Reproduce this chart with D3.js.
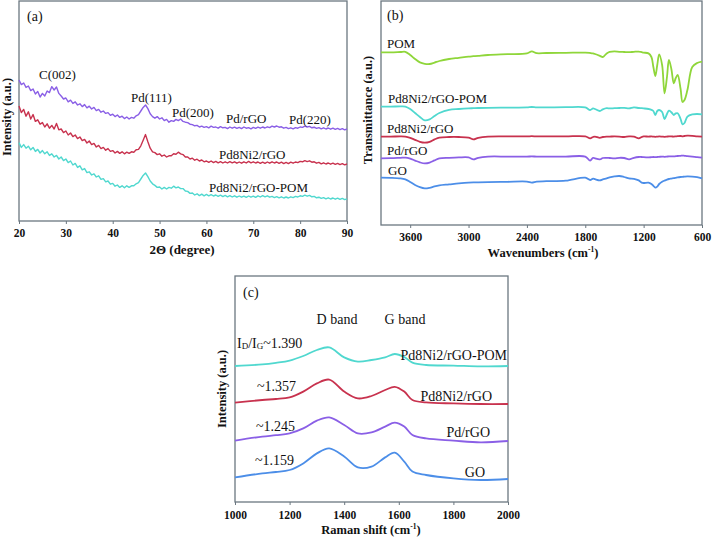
<!DOCTYPE html>
<html>
<head>
<meta charset="utf-8">
<script src="https://cdn.jsdelivr.net/npm/d3@7"></script>
<style>
  body { margin: 0; background: #fff; }
  text { font-family: "Liberation Serif", "Times New Roman", serif; fill: #111; }
</style>
</head>
<body>
<svg width="712" height="540"></svg>
<script>
// ---- (a) XRD, 2-theta from 20 to 90 in 0.5 degree steps ----
const xrdStart = 20, xrdStep = 0.5;
const xrdTicks = [20, 30, 40, 50, 60, 70, 80, 90];

const xrdPdRGO = [
  70.5, 68.2, 69.0, 66.8, 67.5, 65.2, 66.0, 63.5, 64.8, 62.0,
  63.8, 62.5, 65.0, 64.2, 67.2, 65.5, 67.0, 63.8, 62.5, 61.0,
  61.5, 59.6, 60.4, 58.8, 59.6, 58.0, 58.6, 57.2, 58.2, 56.6,
  57.4, 56.0, 56.8, 55.2, 55.8, 54.4, 55.0, 53.8, 54.2, 52.8,
  53.4, 52.2, 53.0, 51.8, 52.4, 51.2, 52.0, 51.0, 51.8, 51.4,
  52.6, 53.2, 55.0, 56.8, 58.0, 56.2, 53.6, 52.2, 51.4, 52.2,
  51.0, 51.6, 50.2, 50.8, 49.4, 50.2, 49.8, 50.8, 50.2, 51.0,
  49.8, 49.4, 49.2, 48.4, 48.2, 47.6, 47.8, 47.0, 47.4, 46.8,
  47.2, 46.6, 47.4, 46.8, 47.0, 46.4, 47.2, 46.6, 46.8, 46.2,
  47.0, 46.4, 46.9, 46.3, 46.8, 46.2, 47.0, 46.4, 46.7, 46.1,
  46.8, 46.3, 46.9, 46.4, 47.0, 46.5, 47.1, 46.7, 47.4, 47.0,
  47.5, 46.9, 47.1, 46.4, 46.8, 46.2, 46.6, 46.1, 46.7, 46.4,
  47.0, 46.8, 47.4, 47.0, 47.3, 46.6, 46.9, 46.3, 46.7, 46.1,
  46.6, 46.0, 46.5, 45.9, 46.4, 45.8, 46.3, 45.7, 46.2, 45.6,
  46.0
];
const xrdPdNiRGO = [
  57.5, 54.2, 55.8, 52.4, 54.6, 51.0, 53.2, 49.8, 50.6, 48.4,
  49.2, 47.0, 48.6, 46.4, 47.8, 46.0, 48.8, 45.6, 46.0, 44.2,
  45.0, 43.0, 44.0, 42.2, 43.0, 41.2, 42.0, 40.2, 40.8, 39.0,
  40.0, 38.2, 38.8, 37.0, 37.8, 36.2, 36.8, 35.4, 36.2, 34.8,
  35.2, 34.0, 34.8, 33.8, 34.6, 33.6, 34.4, 33.8, 34.6, 34.4,
  35.6, 35.8, 37.6, 40.4, 43.2, 39.6, 36.4, 34.6, 34.2, 33.2,
  33.6, 32.4, 33.0, 32.0, 32.6, 32.6, 33.6, 33.4, 34.4, 33.6,
  33.2, 32.0, 32.0, 31.0, 31.4, 30.4, 30.9, 30.0, 30.5, 29.6,
  30.0, 29.3, 30.0, 29.2, 29.8, 29.1, 29.7, 29.0, 29.6, 29.0,
  29.7, 29.1, 29.6, 28.9, 29.5, 28.9, 29.6, 29.0, 29.8, 29.1,
  29.6, 29.0, 29.5, 28.8, 29.4, 28.8, 29.5, 28.9, 29.6, 29.0,
  29.5, 28.8, 29.4, 28.7, 29.3, 28.7, 29.4, 28.9, 29.5, 29.2,
  29.8, 29.6, 30.2, 29.7, 30.1, 29.4, 29.6, 28.9, 29.3, 28.6,
  29.1, 28.5, 29.0, 28.4, 28.9, 28.3, 28.8, 28.2, 28.7, 28.1,
  28.5
];
const xrdPdNiRGOPOM = [
  39.2, 36.8, 38.2, 36.4, 37.4, 35.6, 36.8, 34.8, 35.8, 34.0,
  35.2, 33.6, 34.6, 32.8, 33.6, 32.0, 32.8, 31.0, 32.0, 30.2,
  31.0, 29.2, 30.0, 28.0, 28.8, 26.8, 27.6, 25.6, 26.2, 24.2,
  24.6, 23.0, 23.6, 22.0, 22.6, 20.8, 21.2, 19.6, 20.0, 18.4,
  18.8, 17.4, 18.0, 16.8, 17.6, 16.6, 17.6, 16.8, 17.6, 17.6,
  18.6, 19.2, 21.0, 22.8, 24.0, 22.2, 20.0, 18.6, 17.8, 16.8,
  17.0, 16.0, 16.8, 16.0, 16.8, 16.4, 17.4, 16.6, 17.0, 16.2,
  16.2, 15.0, 14.8, 13.8, 14.0, 13.0, 13.6, 12.7, 13.4, 12.6,
  13.3, 12.6, 13.2, 12.5, 13.0, 12.3, 12.9, 12.2, 12.8, 12.1,
  12.7, 12.0, 12.6, 11.9, 12.5, 11.9, 12.4, 11.8, 12.5, 11.9,
  12.4, 11.8, 12.6, 12.0, 12.7, 12.1, 12.6, 11.9, 12.3, 11.7,
  12.2, 11.6, 12.1, 11.5, 12.0, 11.5, 12.1, 11.7, 12.3, 12.0,
  12.6, 12.3, 12.9, 12.4, 12.8, 12.1, 12.3, 11.6, 11.9, 11.3,
  11.7, 11.1, 11.6, 11.0, 11.5, 10.9, 11.4, 10.8, 11.3, 10.7,
  11.1
];

// ---- (b) FTIR ----
const ftirWn = [
  3900, 3800, 3700, 3650, 3600, 3550, 3500, 3450, 3400, 3350,
  3300, 3200, 3100, 3000, 2950, 2900, 2800, 2600, 2400, 2350,
  2300, 2200, 2000, 1800, 1750, 1720, 1700, 1650, 1620, 1580,
  1550, 1500, 1450, 1400, 1350, 1300, 1250, 1220, 1200, 1150,
  1120, 1100, 1080, 1060, 1040, 1010, 985, 960, 940, 915,
  890, 870, 850, 820, 800, 780, 750, 700, 650, 600
];
const ftirTicks = [3600, 3000, 2400, 1800, 1200, 600];
const ftirPOM = [
  86.3, 86.3, 86.5, 86.6, 85.0, 83.0, 81.3, 80.6, 80.5, 81.2,
  82.0, 83.0, 83.6, 84.2, 84.4, 84.6, 85.0, 85.4, 85.8, 86.8,
  85.9, 86.0, 86.1, 86.2, 86.0, 85.8, 85.5, 84.6, 84.0, 85.8,
  86.6, 86.8, 86.6, 86.5, 86.4, 86.6, 86.7, 86.4, 86.2, 85.8,
  84.0, 79.0, 74.5, 80.0, 85.3, 80.0, 65.8, 74.0, 82.5, 78.0,
  70.8, 73.5, 75.0, 68.0, 61.5, 62.5, 67.5, 79.0, 81.0, 81.7
];
const ftirPdNiPOM = [
  59.2, 59.2, 59.3, 59.2, 58.0, 56.0, 54.0, 52.3, 52.8, 54.5,
  56.0, 57.6, 58.0, 58.3, 58.4, 58.5, 58.6, 58.7, 58.8, 59.0,
  58.8, 58.8, 58.9, 58.8, 57.5, 58.3, 58.0, 57.0, 57.8, 58.4,
  58.3, 58.4, 58.5, 58.6, 58.3, 58.8, 58.5, 58.4, 58.3, 58.0,
  57.6, 57.0, 55.0, 57.0, 57.5, 56.5, 53.0, 55.5, 57.2, 56.4,
  55.0, 55.8, 55.9, 53.0, 50.3, 51.0, 54.2, 55.3, 55.5, 55.3
];
const ftirPdNi = [
  44.2, 44.2, 44.3, 44.2, 43.6, 42.6, 41.6, 41.2, 41.6, 42.8,
  43.7, 44.0, 44.0, 43.7, 42.8, 43.6, 44.2, 44.3, 44.3, 44.4,
  44.3, 44.3, 44.3, 44.3, 43.3, 44.0, 44.2, 43.6, 44.0, 44.2,
  44.2, 44.3, 44.2, 44.0, 44.3, 44.2, 43.3, 44.0, 44.3, 44.2,
  44.3, 44.2, 44.1, 44.2, 44.3, 44.2, 44.1, 44.2, 44.3, 44.3,
  44.2, 44.3, 44.4, 44.5, 44.3, 44.5, 44.7, 44.6, 44.3, 44.2
];
const ftirPd = [
  33.3, 33.4, 33.6, 33.7, 33.2, 32.2, 31.3, 30.8, 31.2, 32.3,
  33.3, 33.6, 33.8, 33.8, 32.8, 33.6, 34.2, 34.2, 34.2, 34.3,
  34.2, 34.2, 34.2, 34.2, 32.2, 33.6, 33.3, 32.8, 33.5, 33.6,
  33.5, 33.3, 33.6, 33.5, 32.8, 33.6, 34.0, 34.0, 33.9, 33.8,
  33.9, 34.0, 33.9, 34.0, 34.1, 34.2, 34.1, 34.2, 34.3, 34.3,
  34.3, 34.4, 34.5, 34.6, 34.7, 34.6, 34.4, 34.2, 33.9, 33.7
];
const ftirGO = [
  23.7, 23.6, 23.3, 22.8, 21.5, 20.0, 18.9, 18.3, 18.6, 19.3,
  19.8, 20.3, 20.8, 21.2, 21.3, 21.3, 21.4, 21.6, 21.7, 21.2,
  21.7, 21.9, 22.2, 23.7, 22.5, 23.2, 22.9, 22.3, 22.8, 23.3,
  23.8, 24.3, 24.5, 24.0, 23.3, 23.1, 22.3, 21.2, 21.0, 21.2,
  20.5, 19.6, 18.7, 19.2, 20.5, 21.6, 22.2, 22.7, 23.0, 23.2,
  23.4, 23.6, 23.8, 24.0, 24.1, 24.2, 24.3, 24.2, 23.9, 23.3
];

// ---- (c) Raman ----
const ramanShift = [1000, 1100, 1150, 1200, 1250, 1300, 1345, 1400, 1450, 1500, 1550, 1585, 1620, 1650, 1700, 1800, 1900, 2000];
const ramanTicks = [1000, 1200, 1400, 1600, 1800, 2000];
const ramanPdNiPOM = [68.0, 68.8, 69.6, 70.7, 73.0, 76.0, 77.3, 72.3, 70.2, 71.0, 72.3, 74.0, 72.5, 69.7, 68.5, 68.2, 67.8, 68.0];
const ramanPdNi = [49.7, 51.0, 51.5, 52.3, 55.2, 59.3, 61.2, 55.2, 51.8, 53.0, 56.0, 57.6, 55.2, 51.0, 49.8, 49.3, 49.0, 49.0];
const ramanPd = [30.7, 32.7, 33.4, 34.3, 36.8, 40.7, 42.3, 38.5, 34.3, 34.8, 37.7, 39.7, 37.7, 33.5, 31.8, 30.7, 29.8, 30.5];
const ramanGO = [12.3, 14.3, 15.0, 16.0, 19.3, 24.3, 26.8, 22.7, 17.3, 17.7, 22.3, 24.7, 20.2, 15.2, 13.5, 11.8, 11.0, 11.5];

const C = { green: "#8fd63a", cyan: "#50d8cf", red: "#c8324e", purple: "#8a5fe6", blue: "#4c8ee8" };
const axisColor = "#6b7780";

const svg = d3.select("svg");
svg.append("rect").attr("width", 712).attr("height", 540).attr("fill", "#fff");

function panel(box, xDomain, yDomain, ticks, padding) {
  const x = d3.scaleLinear().domain(xDomain).range([box.left, box.right]);
  const y = d3.scaleLinear().domain(yDomain).range([box.bottom, box.top]);
  const g = svg.append("g");
  g.append("rect")
    .attr("x", box.left).attr("y", box.top)
    .attr("width", box.right - box.left).attr("height", box.bottom - box.top)
    .attr("fill", "none").attr("stroke", axisColor).attr("stroke-width", 1.3);
  const ax = g.append("g")
    .attr("transform", `translate(0,${box.bottom})`)
    .call(d3.axisBottom(x).tickValues(ticks).tickSize(3).tickPadding(padding).tickFormat(d => d));
  ax.select(".domain").remove();
  ax.selectAll("line").attr("stroke", axisColor);
  ax.selectAll("text")
    .style("font-family", '"Liberation Serif", serif')
    .style("font-weight", "bold").style("font-size", "11.5px").attr("fill", "#111");
  return { x, y, g };
}

function series(p, xs, ys, color, width, curve) {
  const line = d3.line().x(d => p.x(d[0])).y(d => p.y(d[1])).curve(curve);
  p.g.append("path")
    .datum(xs.map((v, i) => [v, ys[i]]))
    .attr("fill", "none").attr("stroke", color)
    .attr("stroke-width", width).attr("stroke-linejoin", "round")
    .attr("d", line);
}

function label(x, y, str, size, opts = {}) {
  const t = svg.append("text").attr("x", x).attr("y", y)
    .attr("dominant-baseline", "central")
    .style("font-size", size + "px")
    .attr("text-anchor", opts.anchor || "start");
  if (opts.bold) t.style("font-weight", "bold");
  if (opts.rotate) t.attr("transform", `rotate(-90,${x},${y})`);
  t.text(str);
  return t;
}

// axis title with a small superscript, e.g. cm-1
function titleWithSup(x, y, before, sup, after) {
  const t = svg.append("text").attr("x", x).attr("y", y)
    .attr("text-anchor", "middle").attr("dominant-baseline", "central")
    .style("font-size", "12.5px").style("font-weight", "bold");
  t.append("tspan").text(before);
  t.append("tspan").attr("dy", -4).style("font-size", "7.5px").text(sup);
  t.append("tspan").attr("dy", 4).text(after);
}

// ---------- panel (a) ----------
const xrdAngles = xrdPdRGO.map((_, i) => xrdStart + i * xrdStep);
const pa = panel({ left: 19, right: 347, top: 1, bottom: 221 }, [20, 90], [0, 110], xrdTicks, 5);
series(pa, xrdAngles, xrdPdRGO, C.purple, 1.4, d3.curveLinear);
series(pa, xrdAngles, xrdPdNiRGO, C.red, 1.4, d3.curveLinear);
series(pa, xrdAngles, xrdPdNiRGOPOM, C.cyan, 1.4, d3.curveLinear);
label(27, 16, "(a)", 14);
label(39, 74, "C(002)", 13);
label(131, 97, "Pd(111)", 13);
label(172, 112, "Pd(200)", 13);
label(226, 118, "Pd/rGO", 13);
label(289, 119, "Pd(220)", 13);
label(219, 154, "Pd8Ni2/rGO", 13);
label(209, 187, "Pd8Ni2/rGO-POM", 13);
label(182, 249, "2Θ (degree)", 13, { anchor: "middle", bold: true });
label(7, 117, "Intensity (a.u.)", 12.5, { anchor: "middle", bold: true, rotate: true });

// ---------- panel (b) ----------
const pb = panel({ left: 381, right: 702, top: 1, bottom: 225 }, [3900, 600], [0, 112], ftirTicks, 5);
const smooth = d3.curveCatmullRom.alpha(0.5);
series(pb, ftirWn, ftirPOM, C.green, 1.8, smooth);
series(pb, ftirWn, ftirPdNiPOM, C.cyan, 1.8, smooth);
series(pb, ftirWn, ftirPdNi, C.red, 1.8, smooth);
series(pb, ftirWn, ftirPd, C.purple, 1.8, smooth);
series(pb, ftirWn, ftirGO, C.blue, 1.8, smooth);
label(387, 15, "(b)", 14);
label(387, 43, "POM", 13);
label(388, 98, "Pd8Ni2/rGO-POM", 13);
label(387, 128, "Pd8Ni2/rGO", 13);
label(387, 150, "Pd/rGO", 13);
label(388, 170, "GO", 13);
titleWithSup(543, 253, "Wavenumbers (cm", "-1", ")");
label(368, 110, "Transmittance (a.u.)", 12.5, { anchor: "middle", bold: true, rotate: true });

// ---------- panel (c) ----------
const pc = panel({ left: 235, right: 508, top: 276, bottom: 502 }, [1000, 2000], [0, 113], ramanTicks, 6);
series(pc, ramanShift, ramanPdNiPOM, C.cyan, 1.8, smooth);
series(pc, ramanShift, ramanPdNi, C.red, 1.8, smooth);
series(pc, ramanShift, ramanPd, C.purple, 1.8, smooth);
series(pc, ramanShift, ramanGO, C.blue, 1.8, smooth);
label(243, 292, "(c)", 14);
label(337, 319, "D band", 14, { anchor: "middle" });
label(405, 319, "G band", 14, { anchor: "middle" });
const idig = svg.append("text").attr("x", 237).attr("y", 343)
  .attr("dominant-baseline", "central").style("font-size", "14px");
idig.append("tspan").text("I");
idig.append("tspan").attr("dy", 3).style("font-size", "9px").text("D");
idig.append("tspan").attr("dy", -3).text("/I");
idig.append("tspan").attr("dy", 3).style("font-size", "9px").text("G");
idig.append("tspan").attr("dy", -3).text("~1.390");
label(257, 386, "~1.357", 14);
label(256, 426, "~1.245", 14);
label(255, 460, "~1.159", 14);
label(507, 355, "Pd8Ni2/rGO-POM", 14, { anchor: "end" });
label(492, 396, "Pd8Ni2/rGO", 14, { anchor: "end" });
label(490, 432, "Pd/rGO", 14, { anchor: "end" });
label(485, 472, "GO", 14, { anchor: "end" });
titleWithSup(371, 530, "Raman shift (cm", "-1", ")");
label(222, 389, "Intensity (a.u.)", 12.5, { anchor: "middle", bold: true, rotate: true });
</script>
</body>
</html>
